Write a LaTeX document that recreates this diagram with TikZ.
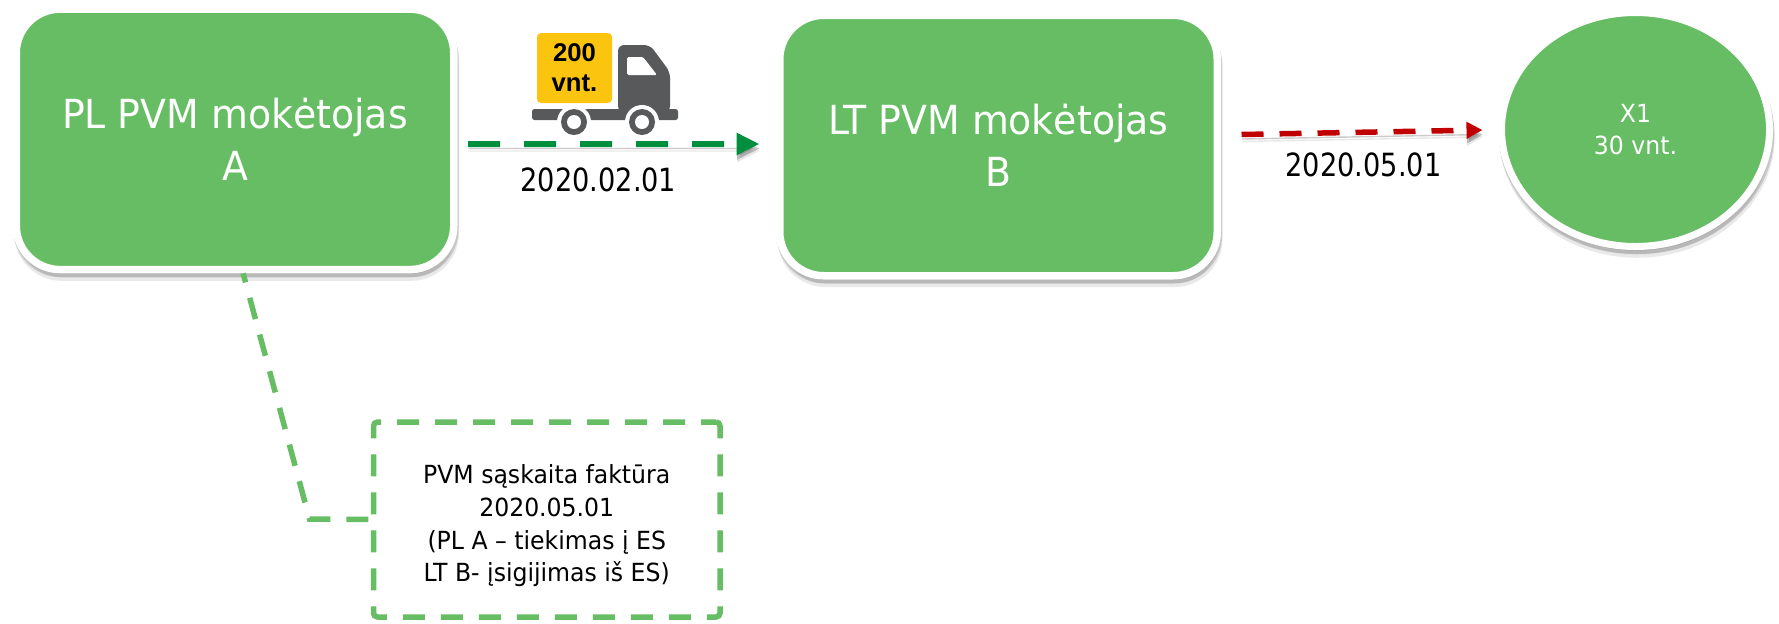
\documentclass[tikz,border=0pt]{standalone}
\usepackage{fontspec}
\setmainfont{DejaVu Sans Condensed}[FakeStretch=1.05]
\newfontfamily\datefont{DejaVu Sans Condensed}[FakeStretch=0.945]
\newfontfamily\cargofont{Liberation Sans}[BoldFont={Liberation Sans Bold}]
\usetikzlibrary{shapes.geometric, arrows.meta, positioning, shadows}

\definecolor{payergreen}{RGB}{102,189,99}
\definecolor{shipgreen}{RGB}{0,143,60}
\definecolor{salered}{RGB}{192,0,0}
\definecolor{cargoyellow}{RGB}{251,196,15}
\definecolor{truckgrey}{RGB}{88,89,91}

\tikzset{
    softshadow/.style={
        drop shadow={shadow xshift=0.1mm, shadow yshift=-0.4mm, opacity=0.22, fill=black!70, draw=black!70, line width=0.75mm},
        drop shadow={shadow xshift=0.15mm, shadow yshift=-0.75mm, opacity=0.12, fill=black!70, draw=black!70, line width=0.75mm}},
    payer/.style={rectangle, rounded corners=4.4mm, draw=white, line width=0.75mm, fill=payergreen, text=white,
        minimum width=43.75mm, minimum height=26.05mm, align=center, softshadow,
        font=\fontsize{11.4pt}{14.8pt}\selectfont},
    stock/.style={ellipse, draw=white, line width=0.7mm, fill=payergreen, text=white, inner sep=0pt,
        minimum width=26.8mm, minimum height=23.4mm, align=center, softshadow,
        font=\fontsize{7.1pt}{9.1pt}\selectfont},
    datelabel/.style={inner sep=0pt, font=\datefont\fontsize{9.1pt}{11pt}\selectfont},
    invoice/.style={rectangle, rounded corners=0.4mm, draw=payergreen, line width=0.55mm, dash pattern=on 2.2mm off 1.6mm, dash phase=0.7mm,
        minimum width=34.65mm, minimum height=19.5mm, align=center, font=\fontsize{7.1pt}{9.3pt}\selectfont},
    lineshadow/.style={preaction={draw=black!60, opacity=0.35, transform canvas={xshift=0.05mm, yshift=-0.45mm}},
        preaction={draw=black!60, opacity=0.15, transform canvas={xshift=0.05mm, yshift=-0.7mm}}}
}

\begin{document}
\begin{tikzpicture}[node distance=2cm]
        \useasboundingbox (0,0) rectangle (17.79,-6.23);

        % Taxpayers
        \node[payer] (plpayer) at (2.35,-1.3935) {PL PVM mokėtojas\\A};
        \node[payer, node distance=76.35mm, right of=plpayer, yshift=-0.615mm] (ltpayer) {LT PVM mokėtojas\\B};
        \node[stock, node distance=63.7mm, right of=ltpayer, yshift=1.6mm] (goods) {X1\\30 vnt.};

        % Invoice
        \node[invoice, node distance=38.015mm, below of=plpayer, xshift=31.175mm] (invoice) {\rule{0pt}{9pt}PVM sąskaita faktūra\\2020.05.01\\(PL A – tiekimas į ES\\LT B- įsigijimas iš ES)};
        \coordinate (bend) at (3.095,-5.19);

        % Truck
        \fill[truckgrey, rounded corners=0.6mm] (6.18,-1.12) -- (6.18,-0.45) -- (6.5,-0.45) -- (6.7,-0.72) -- (6.7,-1.12) -- cycle;
        \fill[truckgrey, rounded corners=0.25mm] (5.32,-1.09) rectangle (6.78,-1.2);
        \fill[white, rounded corners=0.15mm] (6.27,-0.57) -- (6.43,-0.57) -- (6.57,-0.75) -- (6.27,-0.75) -- cycle;
        \foreach \wheelx in {5.74,6.42} {
            \fill[white] (\wheelx,-1.22) circle (0.17);
            \fill[truckgrey] (\wheelx,-1.22) circle (0.13);
            \fill[white] (\wheelx,-1.22) circle (0.07);
        }
        \node[rectangle, rounded corners=0.4mm, fill=cargoyellow, minimum width=7.5mm, minimum height=7mm, inner sep=0pt, align=center,
            node distance=33.95mm, right of=plpayer, yshift=7.135mm,
            font=\cargofont\bfseries\fontsize{7.3pt}{8.6pt}\selectfont] (cargo) {200\\vnt.};

        % Connections
        \draw[shipgreen, line width=0.6mm, dash pattern=on 3.2mm off 2.4mm, -{Triangle[length=2.3mm, width=2.1mm]}, lineshadow]
            ([xshift=1.05mm, yshift=-0.465mm]plpayer.east) -- ([xshift=-1.65mm, yshift=0.15mm]ltpayer.west);
        \draw[salered, line width=0.55mm, dash pattern=on 2.2mm off 1.6mm, -{Triangle[length=1.6mm, width=1.6mm]}, lineshadow]
            ([xshift=2.05mm, yshift=1.1mm]ltpayer.east) -- ([xshift=-1.55mm, yshift=-0.05mm]goods.west);
        \draw[payergreen, line width=0.55mm, dash pattern=on 2.2mm off 1.6mm, dash phase=1.265mm]
            ([xshift=0.81mm]plpayer.south) -- (bend) -- (invoice.west);

        % Dates
        \node[datelabel, node distance=36.35mm, right of=plpayer, yshift=-4.0mm] (shipdate) {2020.02.01};
        \node[datelabel, node distance=36.5mm, right of=ltpayer, yshift=-1.9mm] (saledate) {2020.05.01};
\end{tikzpicture}
\end{document}
